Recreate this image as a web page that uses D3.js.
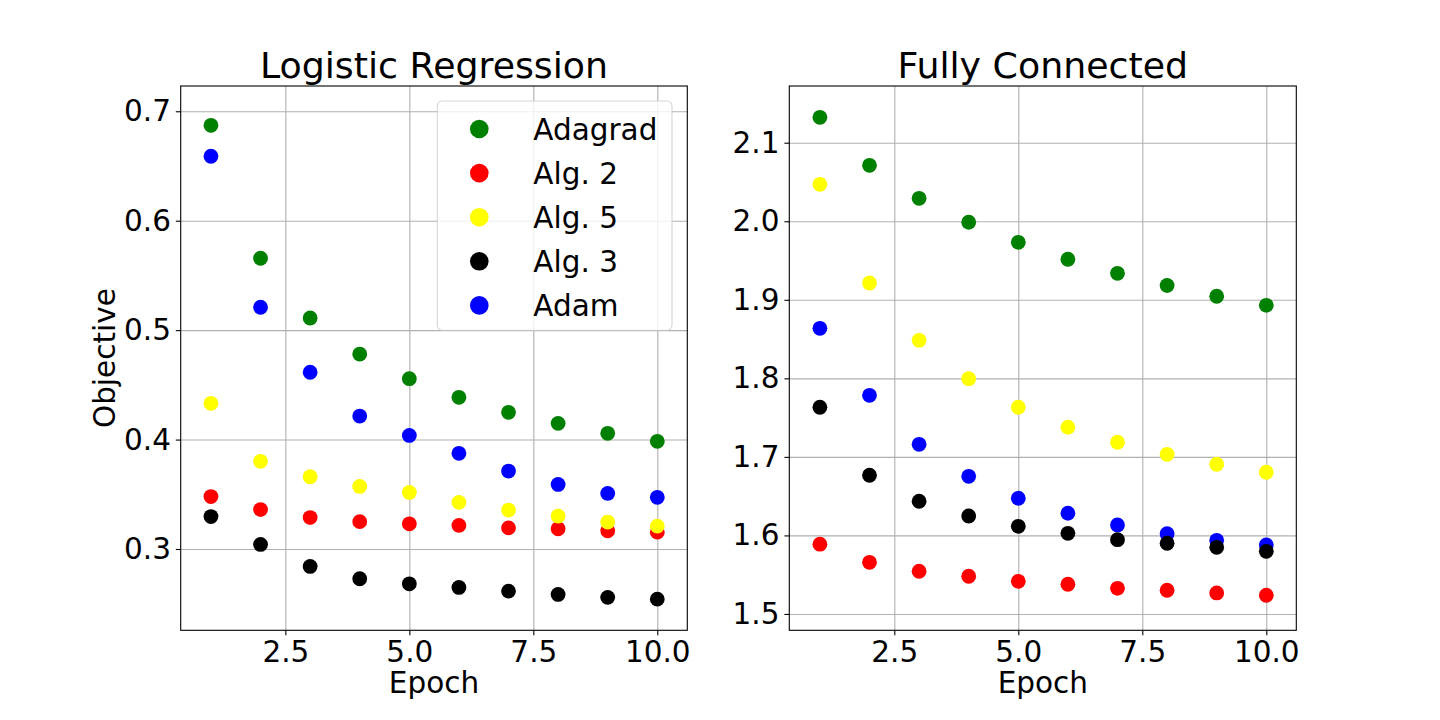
<!DOCTYPE html>
<html>
<head>
<meta charset="utf-8">
<script src="https://cdn.jsdelivr.net/npm/d3@7/dist/d3.min.js"></script>
<style>
  html, body { margin: 0; padding: 0; background: #fff; }
  svg { display: block; font-family: "DejaVu Sans", sans-serif; }
</style>
</head>
<body>
<div id="chart"></div>
<script>
// epochs (x values, shared by both panels)
const epochs = [1, 2, 3, 4, 5, 6, 7, 8, 9, 10]
// legend order
const seriesNames = ['Adagrad', 'Alg. 2', 'Alg. 5', 'Alg. 3', 'Adam']
const xTicks = [2.5, 5.0, 7.5, 10.0]

// Logistic Regression
const lrAdagrad = [0.6872, 0.5657, 0.5111, 0.4781, 0.4556, 0.4386, 0.4249, 0.4148, 0.4057, 0.3984]
const lrAlg2 = [0.3479, 0.3360, 0.3287, 0.3250, 0.3230, 0.3215, 0.3193, 0.3185, 0.3166, 0.3154]
const lrAlg5 = [0.4331, 0.3801, 0.3660, 0.3572, 0.3517, 0.3426, 0.3356, 0.3301, 0.3246, 0.3209]
const lrAlg3 = [0.3296, 0.3042, 0.2841, 0.2728, 0.2682, 0.2649, 0.2615, 0.2585, 0.2558, 0.2542]
const lrAdam = [0.6589, 0.5209, 0.4615, 0.4215, 0.4038, 0.3874, 0.3712, 0.3590, 0.3508, 0.3472]
const lrTicks = [0.3, 0.4, 0.5, 0.6, 0.7]

// Fully Connected
const fcAdagrad = [2.1323, 2.0712, 2.0292, 1.9987, 1.9732, 1.9516, 1.9337, 1.9182, 1.9045, 1.8930]
const fcAlg2 = [1.5888, 1.5658, 1.5544, 1.5480, 1.5416, 1.5378, 1.5327, 1.5302, 1.5268, 1.5238]
const fcAlg5 = [2.0470, 1.9214, 1.8484, 1.7996, 1.7632, 1.7377, 1.7186, 1.7033, 1.6906, 1.6804]
const fcAlg3 = [1.7632, 1.6766, 1.6435, 1.6247, 1.6116, 1.6027, 1.5946, 1.5900, 1.5849, 1.5798]
const fcAdam = [1.8637, 1.7784, 1.7160, 1.6753, 1.6473, 1.6282, 1.6133, 1.6022, 1.5938, 1.5878]
const fcTicks = [1.5, 1.6, 1.7, 1.8, 1.9, 2.0, 2.1]

// 颜色与绘制顺序（黑点压在蓝点上面）
const colors = {
  'Adagrad': '#008000',
  'Alg. 2': '#ff0000',
  'Alg. 5': '#ffff00',
  'Alg. 3': '#000000',
  'Adam': '#0000ff'
}
const drawOrder = ['Adagrad', 'Adam', 'Alg. 2', 'Alg. 5', 'Alg. 3']

const width = 1440
const height = 720
const tickFont = 29.5
const titleFont = 36.3
const tickLen = 4.9
const tickPad = 4.9
const dotR = 7.4

const svg = d3.select('#chart')
  .append('svg')
  .attr('width', width)
  .attr('height', height)

/**
 * 绘制一个子图
 */
function drawPanel(opt) {
  const { left, right, top, bottom, xDomain, yDomain, yTicks, title, yLabel, series } = opt
  const x = d3.scaleLinear().domain(xDomain).range([left, right])
  const y = d3.scaleLinear().domain(yDomain).range([bottom, top])
  const g = svg.append('g')

  // 网格线
  const grid = g.append('g').attr('class', 'grid')
  grid.append('g')
    .attr('transform', `translate(0,${bottom})`)
    .call(d3.axisBottom(x).tickValues(xTicks).tickSize(-(bottom - top)).tickFormat(''))
  grid.append('g')
    .attr('transform', `translate(${left},0)`)
    .call(d3.axisLeft(y).tickValues(yTicks).tickSize(-(right - left)).tickFormat(''))
  grid.selectAll('.domain').remove()
  grid.selectAll('line').attr('stroke', '#b0b0b0').attr('stroke-width', 1.1)

  // 散点
  const dots = g.append('g')
  drawOrder.forEach(name => {
    const vals = series[name]
    dots.append('g')
      .selectAll('circle')
      .data(epochs)
      .enter()
      .append('circle')
      .attr('cx', d => x(d))
      .attr('cy', (d, i) => y(vals[i]))
      .attr('r', dotR)
      .attr('fill', colors[name])
  })

  // 坐标轴
  const xAxis = g.append('g')
    .attr('transform', `translate(0,${bottom})`)
    .call(d3.axisBottom(x).tickValues(xTicks).tickFormat(d3.format('.1f'))
      .tickSize(tickLen).tickPadding(tickPad).tickSizeOuter(0))
  const yAxis = g.append('g')
    .attr('transform', `translate(${left},0)`)
    .call(d3.axisLeft(y).tickValues(yTicks).tickFormat(d3.format('.1f'))
      .tickSize(tickLen).tickPadding(tickPad).tickSizeOuter(0))
  ;[xAxis, yAxis].forEach(a => {
    a.select('.domain').remove()
    a.selectAll('line').attr('stroke', '#000').attr('stroke-width', 1.1)
    a.selectAll('text')
      .attr('fill', '#000')
      .style('font-size', `${tickFont}px`)
      .style('font-family', '"DejaVu Sans", sans-serif')
  })
  xAxis.selectAll('text').attr('dy', null).attr('y', tickLen + tickPad)
    .attr('dominant-baseline', 'hanging')

  // 边框
  g.append('rect')
    .attr('x', left)
    .attr('y', top)
    .attr('width', right - left)
    .attr('height', bottom - top)
    .attr('fill', 'none')
    .attr('stroke', '#000')
    .attr('stroke-width', 1.1)

  // 标题
  g.append('text')
    .attr('x', (left + right) / 2)
    .attr('y', top - 8.3)
    .attr('text-anchor', 'middle')
    .style('font-size', `${titleFont}px`)
    .text(title)

  // x轴标题
  g.append('text')
    .attr('x', (left + right) / 2)
    .attr('y', 693)
    .attr('text-anchor', 'middle')
    .style('font-size', `${tickFont}px`)
    .text('Epoch')

  if (yLabel) {
    g.append('text')
      .attr('transform', `translate(115,${(top + bottom) / 2}) rotate(-90)`)
      .attr('text-anchor', 'middle')
      .style('font-size', `${tickFont}px`)
      .text(yLabel)
  }
  return g
}

const leftPanel = drawPanel({
  left: 180.7, right: 687.3, top: 86, bottom: 630.3,
  xDomain: [0.39, 10.605],
  yDomain: [0.2257, 0.7231],
  yTicks: lrTicks,
  title: 'Logistic Regression',
  yLabel: 'Objective',
  series: { 'Adagrad': lrAdagrad, 'Alg. 2': lrAlg2, 'Alg. 5': lrAlg5, 'Alg. 3': lrAlg3, 'Adam': lrAdam }
})

drawPanel({
  left: 789.3, right: 1296.3, top: 86, bottom: 630.3,
  xDomain: [0.383, 10.605],
  yDomain: [1.4792, 2.1722],
  yTicks: fcTicks,
  title: 'Fully Connected',
  yLabel: null,
  series: { 'Adagrad': fcAdagrad, 'Alg. 2': fcAlg2, 'Alg. 5': fcAlg5, 'Alg. 3': fcAlg3, 'Adam': fcAdam }
})

// 图例（左图右上角）
const legend = leftPanel.append('g')
legend.append('rect')
  .attr('x', 437.3)
  .attr('y', 101)
  .attr('width', 234.7)
  .attr('height', 229.3)
  .attr('rx', 5)
  .attr('fill', '#fff')
  .attr('fill-opacity', 0.8)
  .attr('stroke', '#cccccc')
  .attr('stroke-opacity', 0.8)
  .attr('stroke-width', 1.1)
const items = legend.selectAll('.item')
  .data(seriesNames)
  .enter()
  .append('g')
  .attr('class', 'item')
  .attr('transform', (d, i) => `translate(479.3,${129 + i * 44.1})`)
items.append('circle')
  .attr('r', 9.3)
  .attr('fill', d => colors[d])
items.append('text')
  .attr('x', 54)
  .attr('dy', '0.36em')
  .style('font-size', `${tickFont}px`)
  .text(d => d)
</script>
</body>
</html>
